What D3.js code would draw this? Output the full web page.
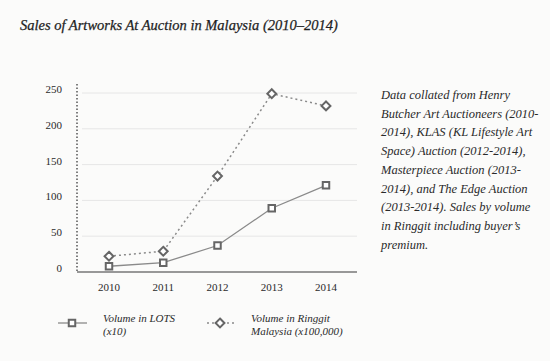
<!DOCTYPE html>
<html>
<head>
<meta charset="utf-8">
<script src="https://cdn.jsdelivr.net/npm/d3@7"></script>
<style>
  body { margin: 0; background: #fbfbfa; }
  svg { display: block; }
  svg text { font-family: "Liberation Serif", "DejaVu Serif", "Times New Roman", serif; }
</style>
</head>
<body>
<div id="wrapper"></div>
<script>
// data
const years = ["2010", "2011", "2012", "2013", "2014"]
const lots = [8, 13, 37, 89, 121]          // Volume in LOTS (x10)
const ringgit = [22, 29, 134, 249, 232]    // Volume in Ringgit Malaysia (x100,000)
const yTicks = [0, 50, 100, 150, 200, 250]
const noteLines = [
    "Data collated from Henry",
    "Butcher Art Auctioneers (2010-",
    "2014), KLAS (KL Lifestyle Art",
    "Space) Auction (2012-2014),",
    "Masterpiece Auction (2013-",
    "2014), and The Edge Auction",
    "(2013-2014). Sales by volume",
    "in Ringgit including buyer\u2019s",
    "premium."
]

const width = 550
const height = 361

const svg = d3.select("#wrapper")
    .append("svg")
    .attr("width", width)
    .attr("height", height)

svg.append("rect")
    .attr("width", width)
    .attr("height", height)
    .attr("fill", "#fbfbfa")

svg.append("text")
    .attr("x", 20)
    .attr("y", 30)
    .text("Sales of Artworks At Auction in Malaysia (2010\u20132014)")
    .attr("font-style", "italic")
    .attr("font-size", "14.5px")
    .attr("fill", "#1e1e1e")
    .attr("stroke", "#1e1e1e")
    .attr("stroke-width", 0.25)

const xScaler = d3.scalePoint()
    .domain(years)
    .range([109, 326])

const yScaler = d3.scaleLinear()
    .domain([0, 250])
    .range([272, 93])

// gridlines
svg.append("g")
    .selectAll("line")
    .data(yTicks.filter(d => d > 0))
    .join("line")
    .attr("x1", 82)
    .attr("x2", 357)
    .attr("y1", d => yScaler(d))
    .attr("y2", d => yScaler(d))
    .attr("stroke", "#e6e6e6")
    .attr("stroke-width", 1)

// y labels
svg.append("g")
    .selectAll("text")
    .data(yTicks)
    .join("text")
    .attr("x", 62)
    .attr("y", d => yScaler(d))
    .attr("text-anchor", "end")
    .attr("font-size", "11px")
    .attr("fill", "#2a2a2a")
    .text(d => d)

// dotted y axis
svg.append("line")
    .attr("x1", 77).attr("x2", 77)
    .attr("y1", 84).attr("y2", 272)
    .attr("stroke", "#555")
    .attr("stroke-width", 1.5)
    .attr("stroke-dasharray", "1.5 2")

// baseline
svg.append("line")
    .attr("x1", 77).attr("x2", 357)
    .attr("y1", 272).attr("y2", 272)
    .attr("stroke", "#777")
    .attr("stroke-width", 1.5)

// x labels
svg.append("g")
    .selectAll("text")
    .data(years)
    .join("text")
    .attr("x", d => xScaler(d))
    .attr("y", 291)
    .attr("text-anchor", "middle")
    .attr("font-size", "11px")
    .attr("fill", "#2a2a2a")
    .text(d => d)

const lineGen = d3.line()
    .x((d, i) => xScaler(years[i]))
    .y(d => yScaler(d))

svg.append("path")
    .datum(ringgit)
    .attr("d", lineGen)
    .attr("fill", "none")
    .attr("stroke", "#8a8a8a")
    .attr("stroke-width", 1.5)
    .attr("stroke-dasharray", "2 3")

svg.append("path")
    .datum(lots)
    .attr("d", lineGen)
    .attr("fill", "none")
    .attr("stroke", "#8a8a8a")
    .attr("stroke-width", 1.3)

const square = d3.symbol().type(d3.symbolSquare).size(42)
const diamond = d3.symbol().type(d3.symbolDiamond2).size(50)

svg.append("g")
    .selectAll("path")
    .data(lots)
    .join("path")
    .attr("d", square)
    .attr("transform", (d, i) => `translate(${xScaler(years[i])},${yScaler(d)})`)
    .attr("fill", "#fff")
    .attr("stroke", "#666")
    .attr("stroke-width", 2)

svg.append("g")
    .selectAll("path")
    .data(ringgit)
    .join("path")
    .attr("d", diamond)
    .attr("transform", (d, i) => `translate(${xScaler(years[i])},${yScaler(d)})`)
    .attr("fill", "#fff")
    .attr("stroke", "#666")
    .attr("stroke-width", 2)

// side note
svg.append("text")
    .attr("font-style", "italic")
    .attr("font-size", "12.5px")
    .attr("fill", "#2a2a2a")
    .selectAll("tspan")
    .data(noteLines)
    .join("tspan")
    .attr("x", 381)
    .attr("y", (d, i) => 99 + i * 18.7)
    .text(d => d)

// legend
const legend = svg.append("g")
legend.append("line")
    .attr("x1", 58).attr("x2", 87)
    .attr("y1", 323).attr("y2", 323)
    .attr("stroke", "#8a8a8a").attr("stroke-width", 1.3)
legend.append("path")
    .attr("d", square)
    .attr("transform", "translate(72,323)")
    .attr("fill", "#fff").attr("stroke", "#666").attr("stroke-width", 2)
legend.append("line")
    .attr("x1", 207).attr("x2", 237)
    .attr("y1", 323).attr("y2", 323)
    .attr("stroke", "#8a8a8a").attr("stroke-width", 1.5)
    .attr("stroke-dasharray", "2 3")
legend.append("path")
    .attr("d", diamond)
    .attr("transform", "translate(220,323)")
    .attr("fill", "#fff").attr("stroke", "#666").attr("stroke-width", 2)

const legendLabels = [
    { x: 103, lines: ["Volume in LOTS", "(x10)"] },
    { x: 251, lines: ["Volume in Ringgit", "Malaysia (x100,000)"] }
]
legend.selectAll("text.lab")
    .data(legendLabels)
    .join("text")
    .attr("class", "lab")
    .attr("font-style", "italic")
    .attr("font-size", "11px")
    .attr("fill", "#2a2a2a")
    .each(function (d) {
        d3.select(this).selectAll("tspan")
            .data(d.lines)
            .join("tspan")
            .attr("x", d.x)
            .attr("y", (t, i) => 322 + i * 13)
            .text(t => t)
    })
</script>
</body>
</html>
